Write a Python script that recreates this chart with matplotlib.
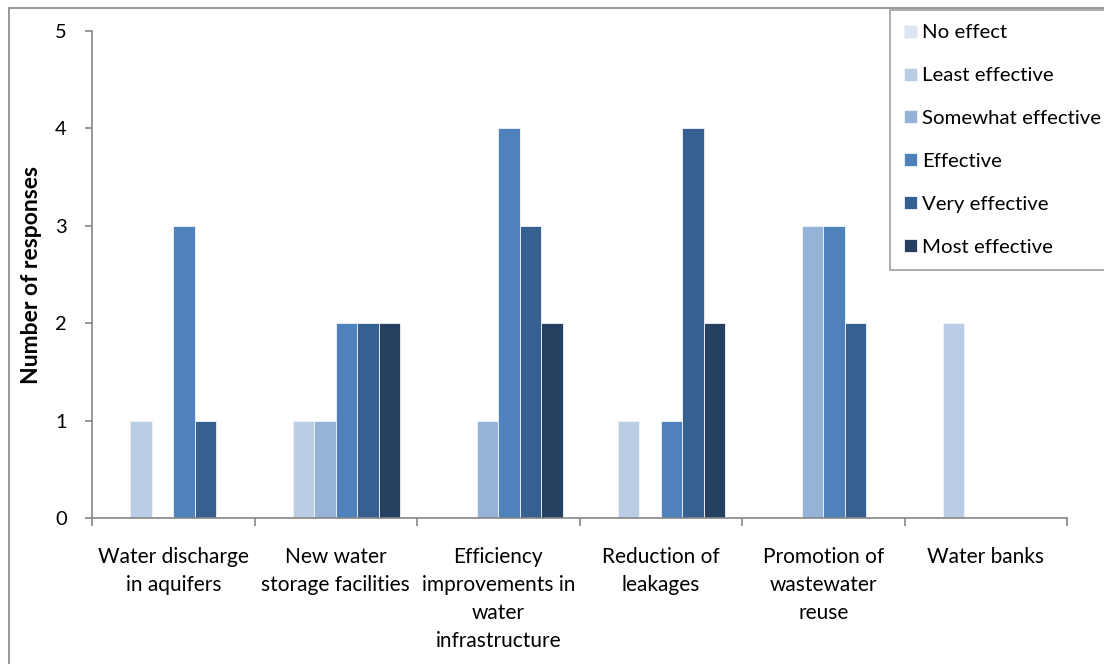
import matplotlib.pyplot as plt
import numpy as np
from matplotlib.patches import Rectangle

categories = ["Water discharge\nin aquifers", "New water\nstorage facilities",
              "Efficiency\nimprovements in\nwater\ninfrastructure",
              "Reduction of\nleakages", "Promotion of\nwastewater\nreuse", "Water banks"]
series_names = ["No effect", "Least effective", "Somewhat effective",
                "Effective", "Very effective", "Most effective"]
no_effect = [0, 0, 0, 0, 0, 0]
least_effective = [1, 1, 0, 1, 0, 2]
somewhat_effective = [0, 1, 1, 0, 3, 0]
effective = [3, 2, 4, 1, 3, 0]
very_effective = [1, 2, 3, 4, 2, 0]
most_effective = [0, 2, 2, 2, 0, 0]
series_values = [no_effect, least_effective, somewhat_effective,
                 effective, very_effective, most_effective]
colors = ["#DCE6F2", "#B9CDE5", "#95B3D7", "#4F81BD", "#376092", "#254061"]
y_ticks = [0, 1, 2, 3, 4, 5]

plt.rcParams['font.family'] = ['Lato', 'DejaVu Sans']

fig = plt.figure(figsize=(11.04, 6.64), dpi=100)
W, H = 1104, 664
ax = fig.add_axes([92 / W, (H - 518) / H, 975 / W, 487 / H])

# outer chart-area border
fig.patches.append(Rectangle((9 / W, -0.1), 1.2, 1 - 8 / H + 0.1,
                             transform=fig.transFigure, fill=False,
                             edgecolor="#868686", linewidth=1.2, zorder=0))

n_series = len(series_names)
bar_w = 1.0 / (n_series + 1.56)
x = np.arange(len(categories))
start = -n_series * bar_w / 2
for i, (name, vals) in enumerate(zip(series_names, series_values)):
    ax.bar(x + start + (i + 0.5) * bar_w, vals, width=bar_w, color=colors[i],
           edgecolor="#F2F5FA", linewidth=0.6, label=name, zorder=2)

ax.set_xlim(-0.5, len(categories) - 0.5)
ax.set_ylim(0, 5)
ax.set_yticks(y_ticks)
ax.set_xticks(np.arange(len(categories) + 1) - 0.5)
ax.set_xticklabels([])
ax.set_xticks(x, minor=True)
ax.set_xticklabels(categories, minor=True, fontsize=15, linespacing=1.49,
                   va="top")
ax.tick_params(axis="x", which="minor", length=0, pad=21)
ax.tick_params(axis="x", which="major", length=6, width=1.2, color="#868686")
ax.tick_params(axis="y", length=5, width=1.2, color="#868686", labelsize=14.5, pad=13)

for side in ["top", "right"]:
    ax.spines[side].set_visible(False)
for side in ["left", "bottom"]:
    ax.spines[side].set_color("#868686")
    ax.spines[side].set_linewidth(1.2)

ax.set_ylabel("Number of responses", fontsize=16.5, fontweight="bold")
ax.yaxis.set_label_coords(-0.051, 0.5)

leg = fig.legend(loc="upper left", bbox_to_anchor=(890 / W, 1 - 10 / H),
                 fontsize=14.7, frameon=True, fancybox=False, borderaxespad=0,
                 handlelength=0.6, handleheight=0.6, handletextpad=0.28,
                 labelspacing=1.27, borderpad=0.7)
leg.get_frame().set_edgecolor("#868686")
leg.get_frame().set_linewidth(1.2)

fig.savefig("out.png", dpi=100)
